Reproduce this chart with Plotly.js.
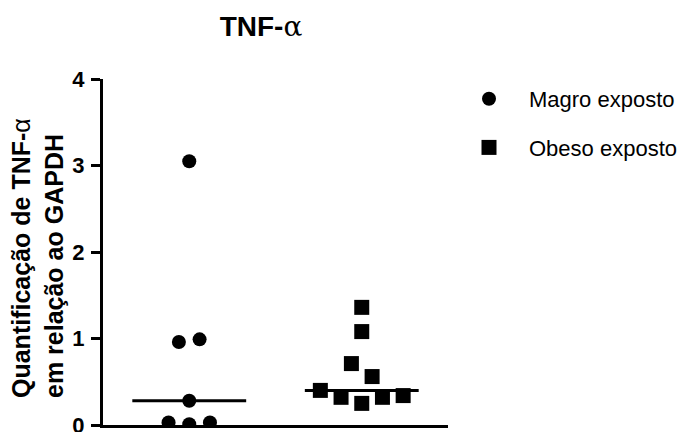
<!DOCTYPE html>
<html>
<head>
<meta charset="utf-8">
<script src="https://cdn.plot.ly/plotly-3.0.1.min.js"></script>
<style>html,body{margin:0;padding:0;background:#fff;}#chart{width:690px;height:432px;}</style>
</head>
<body>
<div id="chart"></div>
<script>
// Data
const groupNames = ["Magro exposto", "Obeso exposto"];
const magroValues = [3.05, 0.96, 0.99, 0.28, 0.03, 0.01, 0.03];
const obesoValues = [1.36, 1.08, 0.71, 0.56, 0.40, 0.32, 0.25, 0.32, 0.34];
const yTickVals = [0, 1, 2, 3, 4];
const yTickText = ["0", "1", "2", "3", "4"];

// Scatter (beeswarm) slots, layout only
const magroSlots = [0, -1, 1, 0, -2, 0, 2];
const obesoSlots = [0, 0, -1, 1, -4, -2, 0, 2, 4];
const groupPos = [1, 3];
const slotStep = 0.12;
const medianHalfWidth = 0.66;

function median(arr) {
  const s = arr.slice().sort((a, b) => a - b);
  const m = Math.floor(s.length / 2);
  return s.length % 2 ? s[m] : (s[m - 1] + s[m]) / 2;
}

const font = "Liberation Sans, Arial, sans-serif";

const traces = [
  {
    type: "scatter", mode: "markers", name: groupNames[0],
    x: magroSlots.map(s => groupPos[0] + s * slotStep),
    y: magroValues,
    marker: {symbol: "circle", size: 14, color: "#000"},
    legendgroup: "a", hoverinfo: "y"
  },
  {
    type: "scatter", mode: "markers", name: groupNames[1],
    x: obesoSlots.map(s => groupPos[1] + s * slotStep),
    y: obesoValues,
    marker: {symbol: "square", size: 15, color: "#000"},
    legendgroup: "b", hoverinfo: "y"
  }
];

const medians = [median(magroValues), median(obesoValues)];
const shapes = medians.map((m, i) => ({
  type: "line", xref: "x", yref: "y", layer: "below",
  x0: groupPos[i] - medianHalfWidth, x1: groupPos[i] + medianHalfWidth,
  y0: m, y1: m, line: {color: "#000", width: 3}
}));

const layout = {
  width: 690, height: 432,
  margin: {l: 103, r: 242, t: 79, b: 7},
  paper_bgcolor: "#fff", plot_bgcolor: "#fff",
  showlegend: true,
  font: {family: font, color: "#000"},
  title: {
    text: 'TNF-<span style="font-weight:normal;font-family:DejaVu Serif">α</span>',
    font: {family: font, size: 28, weight: "bold", color: "#000"},
    xref: "container", x: 261 / 690, xanchor: "center",
    yref: "container", y: 1 - 26 / 432, yanchor: "middle"
  },
  xaxis: {
    range: [0, 4], showticklabels: false, ticks: "", showgrid: false, zeroline: false,
    showline: true, linecolor: "#000", linewidth: 3, fixedrange: true
  },
  yaxis: {
    range: [0, 4], tickvals: yTickVals, ticktext: yTickText,
    ticks: "outside", ticklen: 9, tickwidth: 3, tickcolor: "#000",
    showgrid: false, zeroline: false, showline: true, linecolor: "#000", linewidth: 3,
    tickfont: {family: font, size: 22, weight: "bold", color: "#000"},
    ticklabeloverflow: "allow", ticklabelstandoff: 2,
    fixedrange: true
  },
  legend: {
    x: (449 - 103) / 345, xanchor: "left",
    y: (425 - 78) / 346, yanchor: "top",
    font: {family: font, size: 22, color: "#000"},
    itemwidth: 70, tracegroupgap: 17, traceorder: "grouped",
    bgcolor: "rgba(0,0,0,0)"
  },
  shapes: shapes,
  annotations: [{
    xref: "paper", yref: "paper",
    x: (37 - 103) / 345, y: (425 - 258) / 346,
    xanchor: "center", yanchor: "middle",
    textangle: -90, align: "left", showarrow: false,
    text: 'Quantificação de TNF-<span style="font-weight:normal">α</span><br>em relação ao GAPDH',
    font: {family: font, size: 25, weight: "bold", color: "#000"}
  }]
};

Plotly.newPlot("chart", traces, layout, {displayModeBar: false, staticPlot: true});
</script>
</body>
</html>
